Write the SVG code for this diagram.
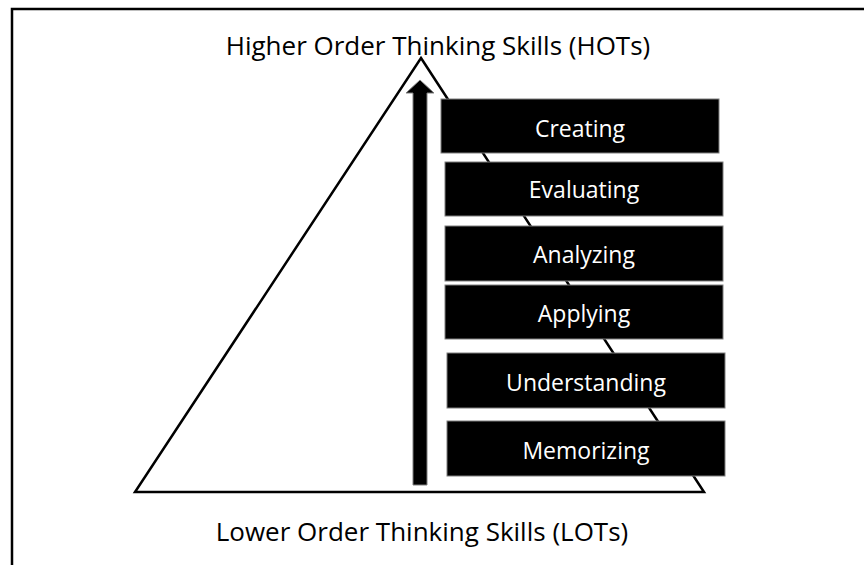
<svg xmlns="http://www.w3.org/2000/svg" width="864" height="565" viewBox="0 0 864 565">
  <style>
    .frame { fill: none; stroke: #000; stroke-width: 2.5; }
    .tri { fill: #fff; stroke: #000; stroke-width: 2.5; stroke-linejoin: miter; }
    .level { fill: #000; stroke: #7f7f7f; stroke-width: 1; }
    .label { font-family: "Open Sans", "Liberation Sans", sans-serif; font-size: 23px; fill: #fff; text-anchor: middle; }
    .caption { font-family: "Open Sans", "Liberation Sans", sans-serif; font-size: 26px; fill: #000; text-anchor: middle; }
    .arrow { fill: #000; stroke: #7f7f7f; stroke-width: 1; }
  </style>
  <rect width="864" height="565" fill="#fff"/>

  <!-- open frame: only the top and left edges lie on the page -->
  <path class="frame" d="M12,565 V9 H864"/>

  <!-- pyramid outline -->
  <g id="pyramid">
    <polygon class="tri" points="421,58 704,492 135,492"/>
  </g>

  <!-- upward progression arrow -->
  <g id="connectors">
    <path class="arrow" d="M413,485 V93 H406 L420,80 L434,93 H427 V485 Z"/>
  </g>

  <g id="creating">
    <rect class="level" x="441" y="99" width="278" height="54"/>
    <text class="label" x="580" y="137">Creating</text>
  </g>
  <g id="evaluating">
    <rect class="level" x="445" y="162" width="278" height="54"/>
    <text class="label" x="584" y="198">Evaluating</text>
  </g>
  <g id="analyzing">
    <rect class="level" x="445" y="226" width="278" height="55"/>
    <text class="label" x="584" y="263">Analyzing</text>
  </g>
  <g id="applying">
    <rect class="level" x="445" y="285" width="278" height="54"/>
    <text class="label" x="584" y="322">Applying</text>
  </g>
  <g id="understanding">
    <rect class="level" x="447" y="353" width="278" height="55"/>
    <text class="label" x="586" y="391">Understanding</text>
  </g>
  <g id="memorizing">
    <rect class="level" x="447" y="421" width="278" height="55"/>
    <text class="label" x="586" y="459">Memorizing</text>
  </g>

  <g id="hots">
    <text class="caption" x="438" y="55">Higher Order Thinking Skills (HOTs)</text>
  </g>
  <g id="lots">
    <text class="caption" x="422" y="541">Lower Order Thinking Skills (LOTs)</text>
  </g>
</svg>
